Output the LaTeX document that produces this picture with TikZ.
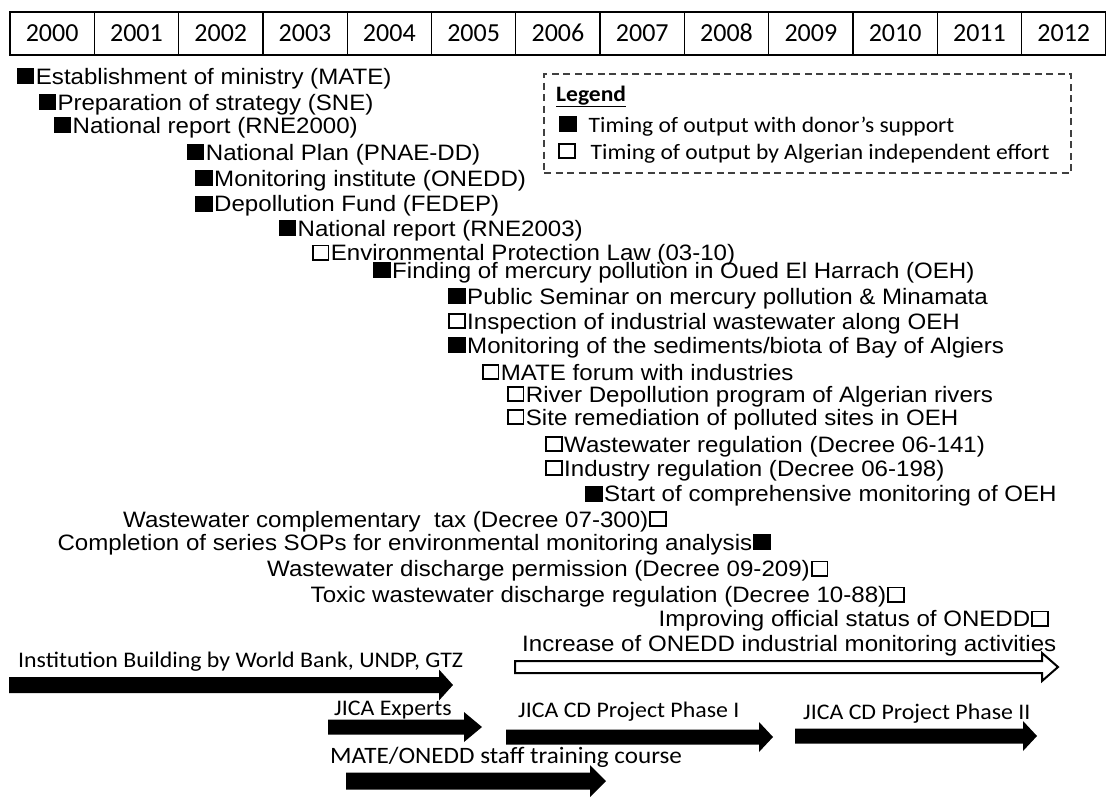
\documentclass[tikz,border=0pt]{standalone}
\usepackage{fontspec}
\setmainfont{Liberation Sans}[FakeStretch=1.08]
\newfontfamily\calfont{Carlito}[FakeStretch=1.07]
\newfontfamily\yearfont{Carlito}

% output markers: filled = donor support, empty = independent effort
\newcommand\fbx{\rule{17.5pt}{16pt}}
\newcommand\ebx{\raisebox{1.8pt}{\setlength\fboxsep{0pt}\setlength\fboxrule{1.8pt}\fbox{\rule{0pt}{12.4pt}\rule{13.9pt}{0pt}}}}

% block arrow: style, x start, x tip, y centre, head length, shaft half width, head half width
\newcommand\gbar[7]{%
  \path[#1] (#2,#4-#6) -- (#3-#5,#4-#6) -- (#3-#5,#4-#7) -- (#3,#4)
    -- (#3-#5,#4+#7) -- (#3-#5,#4+#6) -- (#2,#4+#6) -- cycle;}

\tikzset{
  yearcell/.style={draw, line width=1.3pt, minimum width=84.3pt, minimum height=43pt,
    inner sep=0, text height=16.5pt, text depth=0pt,
    font=\yearfont\fontsize{26}{30}\selectfont},
  evl/.style={anchor=base west, inner sep=0, font=\fontsize{22.3}{26}\selectfont},
  evr/.style={anchor=base east, inner sep=0, font=\fontsize{22.3}{26}\selectfont},
  legendbox/.style={draw=black!75, line width=1.4pt, dash pattern=on 7pt off 4.5pt,
    minimum width=527pt, minimum height=99pt, inner sep=0},
  legtext/.style={anchor=base west, inner sep=0, font=\calfont\fontsize{22}{26}\selectfont},
  barlabel/.style={anchor=base west, inner sep=0, font=\calfont\fontsize{22.3}{26}\selectfont},
  solidbar/.style={fill=black},
  hollowbar/.style={draw=black, fill=white, line width=2pt, line join=miter},
}

\begin{document}
\begin{tikzpicture}[x=1pt, y=-1pt]
\useasboundingbox (0,0) rectangle (1106,798);

% year header
\foreach \i in {0,...,12}{
  \pgfmathtruncatemacro\yr{2000+\i}
  \node[yearcell] (y\yr) at (10+84.3*\i+42.15, 33.5) {\yr};
}

% legend
\node[legendbox] (legend) at (807.5,123.5) {};
\node[legtext] (legtitle) at (556,101.5) {\textbf{\underline{Legend}}};
\node[legtext] (legdonor) at (559,132) {\fbx\hspace{12pt}Timing of output with donor’s support};
\node[legtext] (legindep) at (558,159) {\ebx\hspace{15pt}Timing of output by Algerian independent effort};

% outputs, left aligned at their timing
\node[evl] (e1)  at (16.7,84)   {\fbx\hspace{1.5pt}Establishment of ministry (MATE)};
\node[evl] (e2)  at (38.3,110)  {\fbx\hspace{1.5pt}Preparation of strategy (SNE)};
\node[evl] (e3)  at (53.5,133)  {\fbx\hspace{1.5pt}National report (RNE2000)};
\node[evl] (e4)  at (186.7,160) {\fbx\hspace{1.5pt}National Plan (PNAE-DD)};
\node[evl] (e5)  at (195,186)   {\fbx\hspace{1.5pt}Monitoring institute (ONEDD)};
\node[evl] (e6)  at (195,211.5) {\fbx\hspace{1.5pt}Depollution Fund (FEDEP)};
\node[evl] (e7)  at (278.5,236) {\fbx\hspace{1.5pt}National report (RNE2003)};
\node[evl] (e8)  at (311.7,260.5){\ebx\hspace{1.5pt}Environmental Protection Law (03-10)};
\node[evl] (e9)  at (373,278)   {\fbx\hspace{1.5pt}Finding of mercury pollution in Oued El Harrach (OEH)};
\node[evl] (e10) at (448,304)   {\fbx\hspace{1.5pt}Public Seminar on mercury pollution \& Minamata};
\node[evl] (e11) at (448,329)   {\ebx\hspace{1.5pt}Inspection of industrial wastewater along OEH};
\node[evl] (e12) at (448,353)   {\fbx\hspace{1.5pt}Monitoring of the sediments/biota of Bay of Algiers};
\node[evl] (e13) at (481.7,380) {\ebx\hspace{1.5pt}MATE forum with industries};
\node[evl] (e14) at (506.7,402) {\ebx\hspace{1.5pt}River Depollution program of Algerian rivers};
\node[evl] (e15) at (506.7,425) {\ebx\hspace{1.5pt}Site remediation of polluted sites in OEH};
\node[evl] (e16) at (545,452)   {\ebx\hspace{1.5pt}Wastewater regulation (Decree 06-141)};
\node[evl] (e17) at (545,476)   {\ebx\hspace{1.5pt}Industry regulation (Decree 06-198)};
\node[evl] (e18) at (585,501.5) {\fbx\hspace{1.5pt}Start of comprehensive monitoring of OEH};

% outputs, right aligned at their timing
\node[evr] (e19) at (667,527)   {Wastewater complementary~ tax (Decree 07-300)\hspace{1pt}\ebx};
\node[evr] (e20) at (771,550)   {Completion of series SOPs for environmental monitoring analysis\hspace{1pt}\fbx};
\node[evr] (e21) at (828.5,576.5){Wastewater discharge permission (Decree 09-209)\hspace{1pt}\ebx};
\node[evr] (e22) at (905,602.5) {Toxic wastewater discharge regulation (Decree 10-88)\hspace{1pt}\ebx};
\node[evr] (e23) at (1049,626.5){Improving official status of ONEDD\hspace{1pt}\ebx};

% activity periods
\node[evl] (incr) at (522,651) {Increase of ONEDD industrial monitoring activities};
\gbar{hollowbar}{515}{1058}{667}{16}{6}{14}

\node[barlabel] (inst) at (18,667) {Institution Building by World Bank, UNDP, GTZ};
\gbar{solidbar}{9}{453}{685}{14}{8}{15.5}

\node[barlabel] (experts) at (334,715) {JICA Experts};
\gbar{solidbar}{328}{482}{727}{18}{7.5}{15}

\node[barlabel] (phase1) at (518,717) {JICA CD Project Phase I};
\gbar{solidbar}{506}{773}{737}{14}{7.5}{15}

\node[barlabel] (phase2) at (803,719) {JICA CD Project Phase II};
\gbar{solidbar}{795}{1037}{736}{14}{7.5}{15}

\node[barlabel, font=\calfont\fontsize{23.5}{27}\selectfont] (training) at (330,763) {MATE/ONEDD staff training course};
\gbar{solidbar}{346}{606}{781}{16}{8.5}{16}
\end{tikzpicture}
\end{document}
